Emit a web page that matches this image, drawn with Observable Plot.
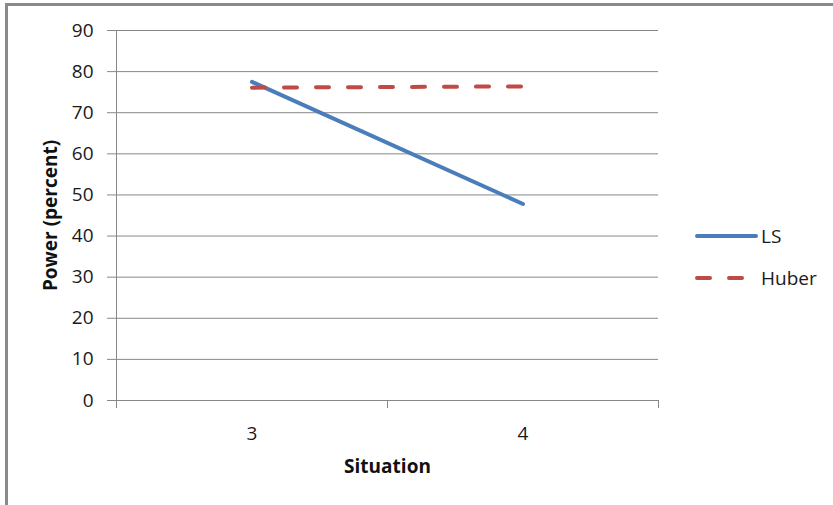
<!DOCTYPE html>
<html>
<head>
<meta charset="utf-8">
<script src="https://cdn.jsdelivr.net/npm/d3@7"></script>
<script src="https://cdn.jsdelivr.net/npm/@observablehq/plot@0.6"></script>
<style>
  html, body { margin: 0; padding: 0; background: #fff; overflow: hidden; }
  #wrap { position: relative; width: 833px; height: 505px; overflow: hidden; font-family: "Open Sans", sans-serif; }
  #border { position: absolute; left: 5px; top: 3px; width: 1000px; height: 1000px; border-top: 3px solid #8a8a8a; border-left: 3px solid #8a8a8a; box-sizing: border-box; }
  #chart { position: absolute; left: 0; top: 0; }
  .legend { position: absolute; left: 694px; height: 24px; font-size: 19px; color: #1a1a1a; display: flex; align-items: center; }
  .legend svg { display: block; }
  .legend span { margin-left: 1px; }
</style>
</head>
<body>
<div id="wrap">
  <div id="border"></div>
  <div id="chart"></div>
  <div id="legend"></div>
</div>
<script>
const situations = [3, 4];
const seriesNames = ["LS", "Huber"];
const lsValues = [77.5, 47.8];
const huberValues = [76.1, 76.4];
const yTicks = [0, 10, 20, 30, 40, 50, 60, 70, 80, 90];
const colors = {LS: "#4a7ebb", Huber: "#be4b48"};

const rows = [];
situations.forEach((s, i) => {
  rows.push({situation: s, series: "LS", value: lsValues[i]});
  rows.push({situation: s, series: "Huber", value: huberValues[i]});
});
const boundaries = situations.map(s => s - 0.5).concat([situations[situations.length - 1] + 0.5]);

const gray = "#878787";
const plot = Plot.plot({
  width: 833,
  height: 505,
  marginLeft: 116,
  marginRight: 175,
  marginTop: 30,
  marginBottom: 105,
  style: {fontFamily: "'Open Sans', sans-serif", fontSize: "19px", color: "#1a1a1a", background: "transparent"},
  x: {type: "linear", domain: [boundaries[0], boundaries[boundaries.length - 1]]},
  y: {domain: [0, 90]},
  marks: [
    Plot.gridY(yTicks, {stroke: gray, strokeOpacity: 1, strokeWidth: 1}),
    Plot.ruleX([boundaries[0]], {stroke: gray, strokeWidth: 1}),
    Plot.ruleY([0], {stroke: gray, strokeWidth: 1}),
    Plot.axisY({ticks: yTicks, tickSize: 9, tickPadding: 14, stroke: gray, strokeOpacity: 1, label: null, fontSize: 19}),
    Plot.axisX({ticks: boundaries, tickSize: 8, stroke: gray, strokeOpacity: 1, text: null, label: null}),
    Plot.axisX({ticks: situations, tickSize: 0, tickPadding: 26, tickFormat: d => String(d), label: null, fontSize: 19}),
    Plot.line(rows.filter(d => d.series === "LS"), {x: "situation", y: "value", stroke: colors.LS, strokeWidth: 4, strokeLinecap: "round"}),
    Plot.line(rows.filter(d => d.series === "Huber"), {x: "situation", y: "value", stroke: colors.Huber, strokeWidth: 4, strokeLinecap: "round", strokeDasharray: "13,19"}),
    Plot.text(["Power (percent)"], {frameAnchor: "left", textAnchor: "middle", text: d => d, rotate: -90, dx: -66, fontWeight: "bold", fontSize: 19, fill: "#111"}),
    Plot.text(["Situation"], {frameAnchor: "bottom", text: d => d, dy: 72, fontWeight: "bold", fontSize: 19, fill: "#111"})
  ]
});
document.getElementById("chart").appendChild(plot);

const legend = document.getElementById("legend");
const legendTops = [224, 266];
seriesNames.forEach((name, i) => {
  const item = document.createElement("div");
  item.className = "legend";
  item.style.top = legendTops[i] + "px";
  const dash = name === "Huber" ? 'stroke-dasharray="13,19"' : "";
  const len = name === "Huber" ? 50 : 62;
  item.innerHTML = `<svg width="66" height="24"><line x1="3" y1="12" x2="${len}" y2="12" stroke="${colors[name]}" stroke-width="4" stroke-linecap="round" ${dash}/></svg><span>${name}</span>`;
  legend.appendChild(item);
});
</script>
</body>
</html>
